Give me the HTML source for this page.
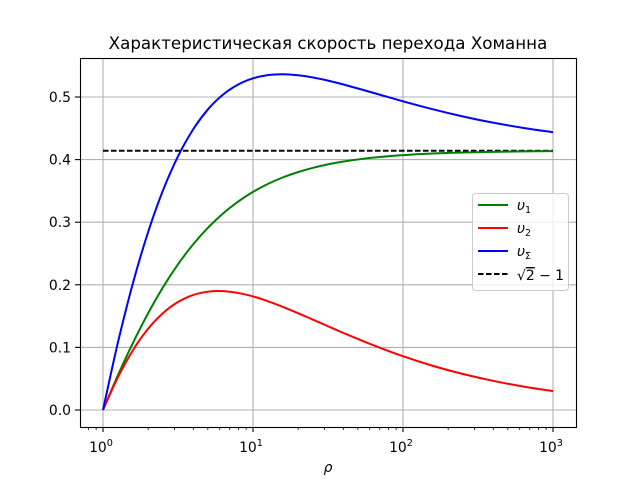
<!DOCTYPE html>
<html><head><meta charset="utf-8"><style>
body{margin:0;background:#fff;font-family:"Liberation Sans","DejaVu Sans",sans-serif}
svg text{font-family:"DejaVu Sans","Liberation Sans",sans-serif}
</style></head><body>
<svg id="c" width="640" height="480">
<rect width="640" height="480" fill="#fff"/>
<text x="328" y="49" font-size="16.7" text-anchor="middle">Характеристическая скорость перехода Хоманна</text>
<g id="grid"></g><g id="marks"></g>
<rect x="80.5" y="58.5" width="496" height="369" fill="none" stroke="#000" stroke-width="1.1"/>
<g id="ticks"></g>
<text x="328" y="472" font-size="13.9" font-style="italic" text-anchor="middle">ρ</text>
<g>
<rect x="472.5" y="193.5" width="96" height="97" rx="3" fill="#fff" fill-opacity="0.8" stroke="#ccc"/>
<line x1="478" y1="205" x2="508" y2="205" stroke="green" stroke-width="2"/>
<text x="517" y="210" font-size="13.9" font-style="italic">υ<tspan font-size="9.5" dy="3" font-style="normal">1</tspan></text>
<line x1="478" y1="228" x2="508" y2="228" stroke="red" stroke-width="2"/>
<text x="517" y="233" font-size="13.9" font-style="italic">υ<tspan font-size="9.5" dy="3" font-style="normal">2</tspan></text>
<line x1="478" y1="251" x2="508" y2="251" stroke="blue" stroke-width="2"/>
<text x="517" y="256" font-size="13.9" font-style="italic">υ<tspan font-size="9.5" dy="3" font-style="normal">Σ</tspan></text>
<line x1="478" y1="274" x2="508" y2="274" stroke="#000" stroke-width="2" stroke-dasharray="5.5,2.5"/>
<text x="517" y="280" font-size="13.9">√<tspan text-decoration="overline">2</tspan> − 1</text>
</g>
</svg>
<script>
const rho=[1,1.2589,1.5849,1.9953,2.5119,3.1623,3.9811,5.0119,6.3096,7.9433,10,12.589,15.849,19.953,25.119,31.623,39.811,63.096,100,158.49,251.19,398.11,630.96,1000];
const v1=[0,.0558,.1074,.1542,.1960,.2327,.2643,.2912,.3139,.3328,.3484,.3612,.3716,.3800,.3869,.3924,.3968,.4031,.4072,.4098,.4114,.4124,.4131,.4135];
const v2=[0,.0526,.0956,.1295,.1548,.1725,.1836,.1890,.1899,.1870,.1814,.1737,.1647,.1547,.1443,.1338,.1234,.1037,.0859,.0705,.0575,.0466,.0376,.0302];
const vsum=[0,.1084,.2030,.2837,.3508,.4052,.4479,.4803,.5038,.5198,.5298,.5349,.5363,.5347,.5312,.5262,.5202,.5068,.4931,.4803,.4689,.4590,.4507,.4437];
const hline=[0.41421];
const yTicks=[0,0.1,0.2,0.3,0.4,0.5];
const xDecades=[0,1,2,3];
const NS='http://www.w3.org/2000/svg';
function X(r){return 103+150*Math.log10(r);}
function Y(v){return 410-626*v;}
function mk(t,a,p){const e=document.createElementNS(NS,t);for(const k in a)e.setAttribute(k,a[k]);document.getElementById(p).appendChild(e);return e;}
yTicks.forEach(v=>{const y=Y(v);
 const g=mk('line',{x1:80,x2:576,y1:y,y2:y,stroke:'#b0b0b0','stroke-width':1.1},'grid');
 
 
 mk('line',{x1:75,x2:80,y1:y,y2:y,stroke:'#000','stroke-width':1.1},'ticks');
 const t=mk('text',{x:71,y:y+5,'font-size':13.9,'text-anchor':'end'},'ticks');t.textContent=v.toFixed(1);
 
 
});
xDecades.forEach(d=>{const x=X(Math.pow(10,d));
 const g=mk('line',{x1:x,x2:x,y1:58,y2:427,stroke:'#b0b0b0','stroke-width':1.1},'grid');
 
 
 mk('line',{x1:x,x2:x,y1:427,y2:432,stroke:'#000','stroke-width':1.1},'ticks');
 const t=mk('text',{x:x-2,y:452,'font-size':13.9,'text-anchor':'middle'},'ticks');
 t.innerHTML='10<tspan font-size="9.7" dy="-6">'+d+'</tspan>';
 
 
 if(d<3)for(let m=2;m<10;m++){const xm=X(m*Math.pow(10,d));mk('line',{x1:xm,x2:xm,y1:427,y2:430,stroke:'#000','stroke-width':0.8},'ticks');}
});
for(let m=8;m<10;m++){const xm=X(m/10);mk('line',{x1:xm,x2:xm,y1:427,y2:430,stroke:'#000','stroke-width':0.8},'ticks');}
const hx=mk('line',{x1:X(1),x2:X(1000),y1:Y(hline[0]),y2:Y(hline[0]),stroke:'#000','stroke-width':2,'stroke-dasharray':'5.5,2.5'},'marks');


function path(vals,col,name){
 let d='';const p=rho.map((r,i)=>[X(r),Y(vals[i])]);
 d='M'+p[0][0]+','+p[0][1];
 for(let i=0;i<p.length-1;i++){const p0=p[Math.max(0,i-1)],p1=p[i],p2=p[i+1],p3=p[Math.min(p.length-1,i+2)];
  d+=' C'+(p1[0]+(p2[0]-p0[0])/6)+','+(p1[1]+(p2[1]-p0[1])/6)+' '+(p2[0]-(p3[0]-p1[0])/6)+','+(p2[1]-(p3[1]-p1[1])/6)+' '+p2[0]+','+p2[1];}
 const e=mk('path',{d:d,fill:'none',stroke:col,'stroke-width':2},'marks');
 
 
}
path(v1,'green','v1-line');path(v2,'red','v2-line');path(vsum,'blue','vsum-line');
</script>
</body></html>
